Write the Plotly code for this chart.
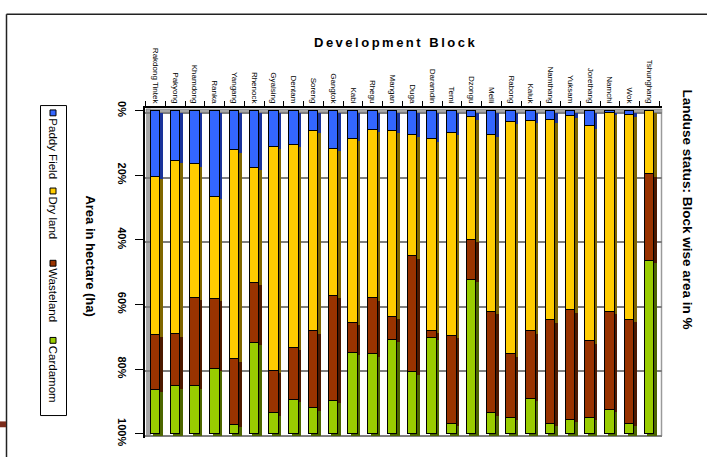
import plotly.graph_objects as go

# ---------------- data (percent of block area) ----------------
blocks = ["Rakdong Tintek", "Pakyong", "Khamdong", "Ranka", "Yangang", "Rhenock",
          "Gyalsing", "Dentam", "Soreng", "Gangtok", "Kabi", "Rhegu", "Mangan",
          "Duga", "Daramdin", "Temi", "Dzongu", "Melli", "Rabong", "Kaluk",
          "Namthang", "Yuksam", "Jorethang", "Namchi", "Wok", "Tshunghang"]

paddy_field = [20.4, 15.6, 16.6, 26.7, 12.3, 17.7, 11.1, 10.6, 6.2, 11.8, 8.8, 6.0, 6.3,
               7.5, 8.9, 6.9, 2.1, 7.4, 3.5, 3.2, 3.0, 1.7, 4.9, 0.8, 1.2, 0.0]
dry_land = [49.1, 53.6, 41.4, 31.6, 64.7, 35.5, 69.4, 62.8, 62.1, 45.5, 56.9, 52.1, 57.6,
            37.6, 59.3, 62.7, 37.8, 54.8, 71.9, 65.1, 61.9, 60.1, 66.5, 61.5, 63.5, 19.7]
wasteland = [16.9, 16.1, 27.3, 21.6, 20.3, 18.6, 13.2, 16.0, 23.8, 32.5, 9.3, 17.3, 7.1,
             35.9, 2.2, 27.3, 12.4, 31.5, 19.6, 21.0, 32.0, 34.0, 23.6, 30.3, 32.2, 26.7]
cardamom = [13.6, 14.7, 14.7, 20.1, 2.7, 28.2, 6.3, 10.6, 7.9, 10.2, 25.0, 24.6, 29.0,
            19.0, 29.6, 3.1, 47.7, 6.3, 5.0, 10.7, 3.1, 4.2, 5.0, 7.4, 3.1, 53.6]

series_names = ["Paddy Field", "Dry land", "Wasteland", "Cardamom"]
series_values = [paddy_field, dry_land, wasteland, cardamom]
front_colors = ["#3366FF", "#FFCC00", "#993300", "#99CC00"]
side_colors = ["#1A3399", "#7F6600", "#4C1900", "#4C6600"]

pct_ticks = [0, 20, 40, 60, 80, 100]
pct_labels = ["0%", "20%", "40%", "60%", "80%", "100%"]

# ---------------- geometry (pixels) ----------------
W_FIG, H_FIG = 707, 457
L, R, T, B = 145, 662, 108, 446
PW, PH = R - L, B - T
PITCH = 19.76
YS = 3.31


def px(x):
    return (x - L) / PW


def py(y):
    return (B - y) / PH


def xr(center0):
    return [(L - center0) / PITCH, (R - center0) / PITCH]


def yr(zero_px):
    return [(B - zero_px) / YS, (T - zero_px) / YS]


FONT = "Liberation Sans, Arial, sans-serif"
fig = go.Figure()

# 3D side faces (shadow bars) on back axes
for name, vals, col in zip(series_names, series_values, side_colors):
    fig.add_trace(go.Bar(x=blocks, y=vals, name=name, marker=dict(color=col, line=dict(width=0)),
                         width=0.48, xaxis="x", yaxis="y", showlegend=False, hoverinfo="skip"))
# front faces
for name, vals, col in zip(series_names, series_values, front_colors):
    fig.add_trace(go.Bar(x=blocks, y=vals, name=name,
                         marker=dict(color=col, line=dict(color="#000000", width=1)),
                         width=0.48, xaxis="x2", yaxis="y2", showlegend=False))

fig.update_layout(
    width=W_FIG, height=H_FIG,
    margin=dict(l=L, r=W_FIG - R, t=T, b=H_FIG - B, pad=0),
    paper_bgcolor="white", plot_bgcolor="rgba(0,0,0,0)",
    barmode="stack", bargap=0,
    showlegend=False,
    font=dict(family=FONT, color="#000000"),
    xaxis=dict(type="category", categoryorder="array", categoryarray=blocks,
               range=xr(158), visible=False),
    yaxis=dict(range=yr(113), tickvals=pct_ticks, showticklabels=False, ticks="",
               showgrid=True, gridcolor="#7F7F7F", gridwidth=1.5, zeroline=False, showline=False),
    xaxis2=dict(type="category", categoryorder="array", categoryarray=blocks,
                range=xr(155.5), overlaying="x", anchor="y2", side="top",
                tickangle=90, ticks="outside", tickson="boundaries", ticklen=5,
                tickcolor="#000000", tickwidth=1,
                showline=True, linecolor="#000000", linewidth=1.5, showgrid=False,
                tickfont=dict(size=8, family=FONT)),
    yaxis2=dict(range=yr(110.7), overlaying="y", anchor="x2", side="left",
                tickvals=pct_ticks, ticktext=pct_labels, tickangle=90,
                ticks="outside", ticklen=8, tickcolor="#000000", tickwidth=1,
                ticklabelstandoff=4,
                showline=True, linecolor="#000000", linewidth=1.5,
                showgrid=False, zeroline=False,
                tickfont=dict(size=11, family=FONT, weight="bold")),
)

shapes = []
# outer frame
shapes.append(dict(type="line", xref="paper", yref="paper", x0=px(6.5), x1=px(720),
                   y0=py(12), y1=py(12), line=dict(color="#222222", width=1.5)))
shapes.append(dict(type="line", xref="paper", yref="paper", x0=px(6.5), x1=px(6.5),
                   y0=py(12), y1=py(470), line=dict(color="#222222", width=1.5)))
# small page mark bottom-left
shapes.append(dict(type="rect", xref="paper", yref="paper", x0=px(-2), x1=px(6),
                   y0=py(429), y1=py(435), fillcolor="#7B2B1B", line=dict(width=0)))
# 3D walls
shapes.append(dict(type="rect", xref="paper", yref="paper", x0=px(146), x1=px(662),
                   y0=py(109), y1=py(113), fillcolor="#A6A6A6",
                   line=dict(color="#7F7F7F", width=0.5), layer="below"))
shapes.append(dict(type="rect", xref="paper", yref="paper", x0=px(146.5), x1=px(150.5),
                   y0=py(109), y1=py(444), fillcolor="#A6A6A6",
                   line=dict(color="#7F7F7F", width=0.5), layer="below"))
shapes.append(dict(type="line", xref="paper", yref="paper", x0=px(661.5), x1=px(661.5),
                   y0=py(113), y1=py(444), line=dict(color="#9A9A9A", width=1.5), layer="below"))
# legend box
shapes.append(dict(type="rect", xref="paper", yref="paper", x0=px(40.5), x1=px(66.5),
                   y0=py(105.5), y1=py(423), fillcolor="white",
                   line=dict(color="#000000", width=1)))

annotations = []
legend_pos = [113, 193, 267, 346]
for name, col, ypos in zip(series_names, front_colors, legend_pos):
    shapes.append(dict(type="rect", xref="paper", yref="paper", x0=px(50), x1=px(56),
                       y0=py(ypos - 3), y1=py(ypos + 3), fillcolor=col,
                       line=dict(color="#000000", width=1)))
    annotations.append(dict(text=name, xref="paper", yref="paper", x=px(53), y=py(ypos + 3),
                            xanchor="center", yanchor="top", textangle=90, showarrow=False,
                            font=dict(size=11.5, family=FONT)))

annotations.append(dict(text="<b>Area in hectare (ha)</b>", xref="paper", yref="paper",
                        x=px(91), y=py(259), xanchor="center", yanchor="middle",
                        textangle=90, showarrow=False, font=dict(size=13, family=FONT)))
annotations.append(dict(text="<b><span style='letter-spacing:2.5px'>Development Block</span></b>",
                        xref="paper", yref="paper", x=px(395), y=py(41),
                        xanchor="center", yanchor="middle", showarrow=False,
                        font=dict(size=13, family=FONT)))
annotations.append(dict(text="<b>Landuse status: Block wise area in %</b>", xref="paper",
                        yref="paper", x=px(687), y=py(212), xanchor="center", yanchor="middle",
                        textangle=90, showarrow=False, font=dict(size=13.5, family=FONT)))

fig.update_layout(shapes=shapes, annotations=annotations)
fig.write_html("out.html", config={"displayModeBar": False},
               post_script="document.body.style.margin='0';")
